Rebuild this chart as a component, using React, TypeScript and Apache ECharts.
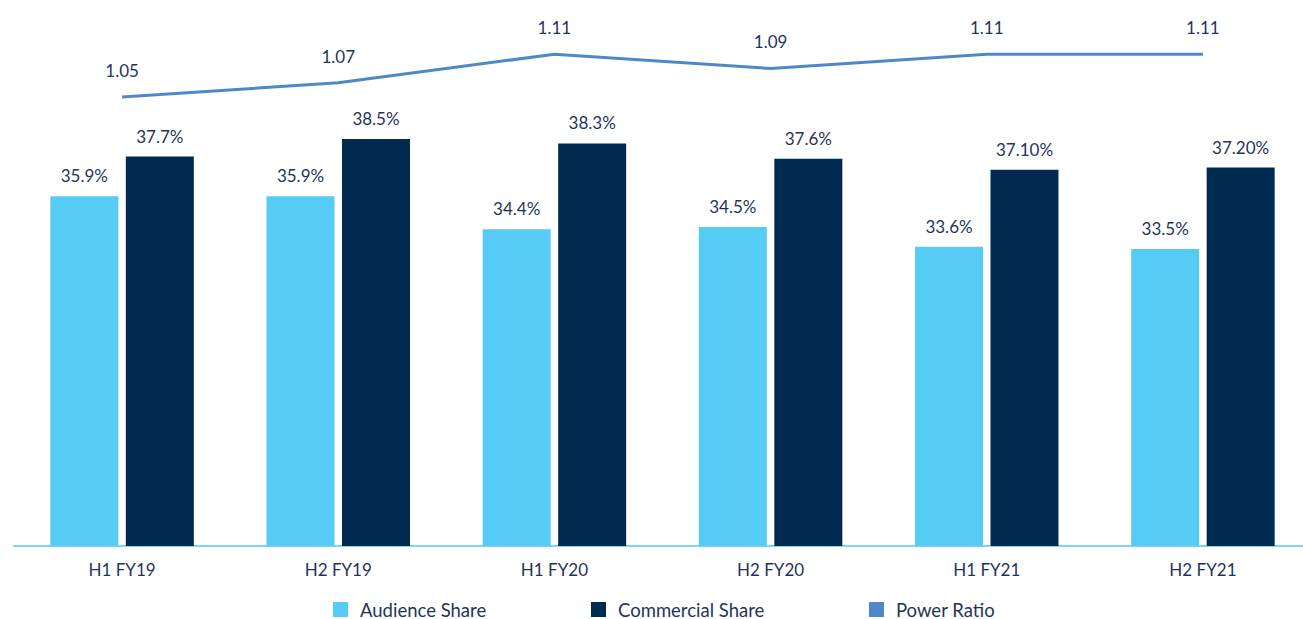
import React, { useEffect, useRef } from "react";
import * as echarts from "echarts";

const categories = ["H1 FY19", "H2 FY19", "H1 FY20", "H2 FY20", "H1 FY21", "H2 FY21"];
const audienceShare = [35.9, 35.9, 34.4, 34.5, 33.6, 33.5];
const commercialShare = [37.7, 38.5, 38.3, 37.6, 37.1, 37.2];
const commercialLabels = ["37.7%", "38.5%", "38.3%", "37.6%", "37.10%", "37.20%"];
const powerRatio = [1.05, 1.07, 1.11, 1.09, 1.11, 1.11];

const FONT = "Lato, 'Open Sans', sans-serif";
const TEXT = "#1f3558";
const C_AUD = "#56CBF5";
const C_COM = "#002A4F";
const C_PR = "#4F88C7";

const legendItem = (name: string, color: string, left: number) => ({
  left,
  top: 600,
  padding: 0,
  itemWidth: 15,
  itemHeight: 15,
  icon: "rect",
  textStyle: {
    fontSize: 18.5,
    lineHeight: 18,
    color: TEXT,
    fontFamily: FONT,
    padding: [0, 0, 0, 7],
  },
  data: [{ name, itemStyle: { color } }],
});

export default function App() {
  const ref = useRef<HTMLDivElement>(null);
  useEffect(() => {
    if (!ref.current) return;
    const chart = echarts.init(ref.current, null, { renderer: "svg" });
    chart.setOption({
      animation: false,
      textStyle: { fontFamily: FONT },
      grid: { left: 14, right: 1, top: 40, bottom: 73 },
      legend: [
        legendItem("Audience Share", C_AUD, 333),
        legendItem("Commercial Share", C_COM, 591),
        legendItem("Power Ratio", C_PR, 869),
      ],
      xAxis: {
        type: "category",
        data: categories,
        axisLine: { lineStyle: { color: "#7FD4F6", width: 2 } },
        axisTick: { show: false },
        axisLabel: { fontSize: 17, color: TEXT, margin: 15, fontFamily: FONT },
      },
      yAxis: [
        { type: "value", min: 20, max: 43, show: false, splitLine: { show: false } },
        { type: "value", min: 0.42, max: 1.13, show: false, splitLine: { show: false } },
      ],
      series: [
        {
          name: "Audience Share",
          type: "bar",
          data: audienceShare,
          barWidth: 68,
          barGap: "11%",
          itemStyle: { color: C_AUD },
          label: {
            show: true,
            position: "top",
            distance: 12,
            fontSize: 17,
            color: TEXT,
            fontFamily: FONT,
            formatter: (p: any) => p.value.toFixed(1) + "%",
          },
        },
        {
          name: "Commercial Share",
          type: "bar",
          data: commercialShare,
          barWidth: 68,
          barGap: "11%",
          itemStyle: { color: C_COM },
          label: {
            show: true,
            position: "top",
            distance: 12,
            fontSize: 17,
            color: TEXT,
            fontFamily: FONT,
            formatter: (p: any) => commercialLabels[p.dataIndex],
          },
        },
        {
          name: "Power Ratio",
          type: "line",
          yAxisIndex: 1,
          data: powerRatio,
          symbol: "circle",
          symbolSize: 0.1,
          lineStyle: { color: C_PR, width: 3 },
          itemStyle: { color: C_PR },
          label: {
            show: true,
            position: "top",
            distance: 18,
            fontSize: 17,
            color: TEXT,
            fontFamily: FONT,
            formatter: (p: any) => String(p.value),
          },
        },
      ],
    });
    return () => chart.dispose();
  }, []);
  return (
    <div
      ref={ref}
      style={{ position: "fixed", left: 0, top: 0, width: 1312, height: 619, background: "#fff" }}
    />
  );
}
